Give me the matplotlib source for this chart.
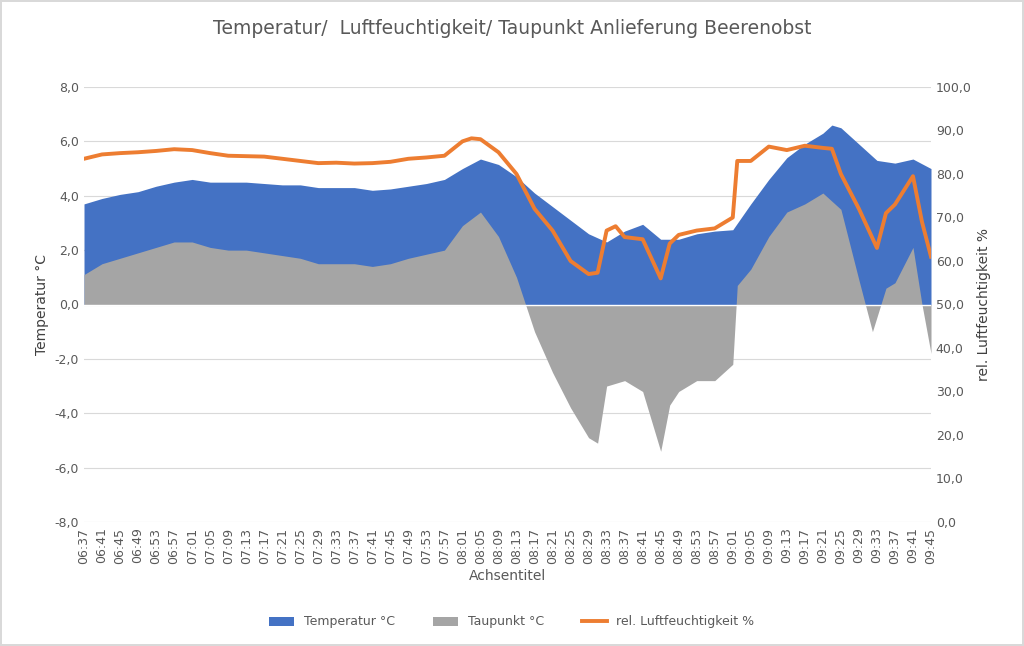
import matplotlib.pyplot as plt
import numpy as np

t_temp = ["06:37","06:41","06:45","06:49","06:53","06:57","07:01","07:05","07:09","07:13","07:17","07:21","07:25","07:29","07:33","07:37","07:41","07:45","07:49","07:53","07:57","08:01","08:05","08:09","08:13","08:17","08:21","08:25","08:29","08:33","08:37","08:41","08:45","08:49","08:53","08:57","09:01","09:05","09:09","09:13","09:17","09:21","09:23","09:25","09:29","09:33","09:37","09:41","09:45"]
temp = [3.7,3.9,4.05,4.15,4.35,4.5,4.6,4.5,4.5,4.5,4.45,4.4,4.4,4.3,4.3,4.3,4.2,4.25,4.35,4.45,4.6,5.0,5.35,5.15,4.7,4.1,3.6,3.1,2.6,2.3,2.7,2.95,2.4,2.4,2.6,2.7,2.75,3.7,4.6,5.4,5.9,6.3,6.6,6.5,5.9,5.3,5.2,5.35,5.0]

t_dew = ["06:37","06:41","06:45","06:49","06:53","06:57","07:01","07:05","07:09","07:13","07:17","07:21","07:25","07:29","07:33","07:37","07:41","07:45","07:49","07:53","07:57","08:01","08:05","08:09","08:13","08:17","08:21","08:25","08:29","08:31","08:33","08:37","08:41","08:45","08:47","08:49","08:53","08:57","09:01","09:02","09:05","09:09","09:13","09:17","09:21","09:25","09:29","09:32","09:35","09:37","09:41","09:43","09:45"]
dew = [1.1,1.5,1.7,1.9,2.1,2.3,2.3,2.1,2.0,2.0,1.9,1.8,1.7,1.5,1.5,1.5,1.4,1.5,1.7,1.85,2.0,2.9,3.4,2.5,1.0,-1.0,-2.5,-3.8,-4.9,-5.1,-3.0,-2.8,-3.2,-5.4,-3.7,-3.2,-2.8,-2.8,-2.2,0.7,1.3,2.5,3.4,3.7,4.1,3.5,0.9,-1.0,0.6,0.8,2.1,0.0,-1.8]

t_rh = ["06:37","06:41","06:45","06:49","06:53","06:57","07:01","07:05","07:09","07:13","07:17","07:21","07:25","07:29","07:33","07:37","07:41","07:45","07:49","07:53","07:57","08:01","08:03","08:05","08:09","08:13","08:17","08:21","08:25","08:29","08:31","08:33","08:35","08:37","08:41","08:45","08:47","08:49","08:53","08:57","09:01","09:02","09:05","09:09","09:13","09:17","09:21","09:23","09:25","09:29","09:33","09:35","09:37","09:41","09:43","09:45"]
rh = [83.5,84.5,84.8,85,85.3,85.7,85.5,84.8,84.2,84.1,84,83.5,83,82.5,82.6,82.4,82.5,82.8,83.5,83.8,84.2,87.5,88.2,88,85,80,72,67,60,57,57.3,67,68,65.5,65,56,64,66,67,67.5,70,83,83,86.3,85.5,86.5,86,85.8,80,72,63,71,73,79.5,69,61]

def mins(ts):
    return np.array([int(s[:2]) * 60 + int(s[3:]) for s in ts]) - (6 * 60 + 37)

fig = plt.figure(figsize=(10.24, 6.46), dpi=100)
fig.patch.set_edgecolor('#d9d9d9'); fig.patch.set_linewidth(1.5)
ax = fig.add_axes([84/1024, 1-522/646, (931-84)/1024, (522-87)/646])
ax2 = ax.twinx()

ax.fill_between(mins(t_temp), temp, 0, color='#4472C4', lw=0, label='Temperatur °C')
ax.fill_between(mins(t_dew), dew, 0, color='#A5A5A5', lw=0, label='Taupunkt °C')
ax2.plot(mins(t_rh), rh, color='#ED7D31', lw=2.8, label='rel. Luftfeuchtigkeit %')

ax.set_ylim(-8, 8); ax2.set_ylim(0, 100)
ax.set_yticks(np.arange(-8, 9, 2))
ax.set_yticklabels([f"{v:.1f}".replace('.', ',') for v in np.arange(-8, 9, 2)])
ax2.set_yticks(np.arange(0, 101, 10))
ax2.set_yticklabels([f"{v:.1f}".replace('.', ',') for v in np.arange(0, 101, 10)])
ax.set_xlim(0, 188)
ticks = np.arange(0, 189, 4)
ax.set_xticks(ticks)
ax.set_xticklabels([f"{(397+m)//60:02d}:{(397+m)%60:02d}" for m in ticks], rotation=90)
ax.grid(axis='y', color='#d9d9d9', lw=0.8); ax.set_axisbelow(True)
ax.axhline(0, color='white', lw=1)
for a in (ax, ax2):
    for s in a.spines.values(): s.set_visible(False)
    a.tick_params(length=0, labelsize=9, colors='#595959')
ax.tick_params(axis='x', pad=4)
ax.set_ylabel('Temperatur °C', fontsize=10, color='#404040')
ax2.set_ylabel('rel. Luftfeuchtigkeit %', fontsize=10, color='#404040')
ax.set_xlabel('Achsentitel', fontsize=10, color='#595959')
fig.text(0.5, 1-28/646, 'Temperatur/  Luftfeuchtigkeit/ Taupunkt Anlieferung Beerenobst',
         ha='center', va='center', fontsize=13.5, color='#595959')
h1, l1 = ax.get_legend_handles_labels(); h2, l2 = ax2.get_legend_handles_labels()
fig.legend(h1+h2, l1+l2, loc='center', bbox_to_anchor=(0.5, 1-622/646), ncol=3,
           frameon=False, fontsize=9, labelcolor='#595959', columnspacing=3)
fig.savefig('out.png', dpi=100)
